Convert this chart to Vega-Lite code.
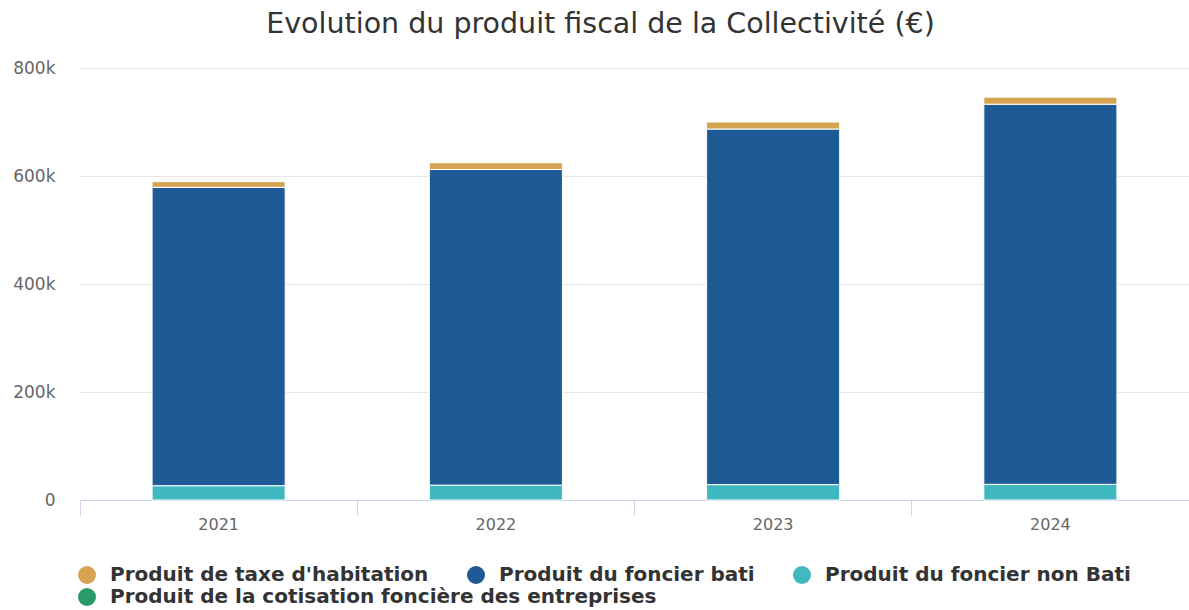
{
  "$schema": "https://vega.github.io/schema/vega-lite/v6.json",
  "autosize": "none",
  "width": 1109,
  "height": 432,
  "padding": {"left": 80, "top": 68, "right": 0, "bottom": 110},
  "background": "#ffffff",
  "title": {
    "text": "Evolution du produit fiscal de la Collectivité (€)",
    "font": "DejaVu Sans",
    "fontSize": 28.5,
    "fontWeight": "normal",
    "color": "#333333",
    "anchor": "middle",
    "dx": -34,
    "offset": 21
  },
  "data": {
    "values": [
      {"annee": "2021", "serie": "Produit du foncier non Bati", "valeur": 26500},
      {"annee": "2021", "serie": "Produit du foncier bati", "valeur": 552500},
      {"annee": "2021", "serie": "Produit de taxe d'habitation", "valeur": 10500},
      {"annee": "2021", "serie": "Produit de la cotisation foncière des entreprises", "valeur": 0},
      {"annee": "2022", "serie": "Produit du foncier non Bati", "valeur": 27500},
      {"annee": "2022", "serie": "Produit du foncier bati", "valeur": 584500},
      {"annee": "2022", "serie": "Produit de taxe d'habitation", "valeur": 12500},
      {"annee": "2022", "serie": "Produit de la cotisation foncière des entreprises", "valeur": 0},
      {"annee": "2023", "serie": "Produit du foncier non Bati", "valeur": 28500},
      {"annee": "2023", "serie": "Produit du foncier bati", "valeur": 658500},
      {"annee": "2023", "serie": "Produit de taxe d'habitation", "valeur": 13000},
      {"annee": "2023", "serie": "Produit de la cotisation foncière des entreprises", "valeur": 0},
      {"annee": "2024", "serie": "Produit du foncier non Bati", "valeur": 29000},
      {"annee": "2024", "serie": "Produit du foncier bati", "valeur": 704000},
      {"annee": "2024", "serie": "Produit de taxe d'habitation", "valeur": 13000},
      {"annee": "2024", "serie": "Produit de la cotisation foncière des entreprises", "valeur": 0}
    ]
  },
  "encoding": {
    "x": {
      "field": "annee",
      "type": "nominal",
      "title": null,
      "scale": {"paddingInner": 0, "paddingOuter": 0},
      "axis": {
        "labelAngle": 0,
        "bandPosition": 0,
        "labelBandPosition": 0.5,
        "domainColor": "#ccd6eb",
        "domainWidth": 1,
        "tickColor": "#ccd6eb",
        "tickSize": 15,
        "tickWidth": 1,
        "labelPadding": 1,
        "labelFont": "DejaVu Sans",
        "labelFontSize": 16,
        "labelColor": "#666666",
        "grid": false
      }
    },
    "y": {
      "field": "valeur",
      "type": "quantitative",
      "title": null,
      "scale": {"domain": [0, 800000]},
      "axis": {
        "values": [0, 200000, 400000, 600000, 800000],
        "labelExpr": "datum.value == 0 ? '0' : format(datum.value / 1000, 'd') + 'k'",
        "domain": false,
        "ticks": false,
        "labelPadding": 25,
        "labelFont": "DejaVu Sans",
        "labelFontSize": 17,
        "labelColor": "#666666",
        "gridColor": "#e6e6e6",
        "gridWidth": 1
      }
    }
  },
  "layer": [
    {
      "transform": [{"filter": "datum.serie != 'Produit de la cotisation foncière des entreprises'"}],
      "mark": {"type": "bar", "width": {"band": 0.48}, "stroke": "#ffffff", "strokeWidth": 1},
      "encoding": {
        "y": {"field": "valeur", "type": "quantitative", "stack": "zero"},
        "color": {
          "field": "serie",
          "type": "nominal",
          "title": null,
          "scale": {
            "domain": ["Produit de taxe d'habitation", "Produit du foncier bati", "Produit du foncier non Bati"],
            "range": ["#d6a450", "#1e5b96", "#40b8c0"]
          },
          "legend": {
            "orient": "none",
            "legendX": -3,
            "legendY": 497,
            "direction": "horizontal",
            "padding": 0,
            "columnPadding": 37,
            "symbolType": "circle",
            "symbolSize": 324,
            "symbolStrokeWidth": 0,
            "symbolOpacity": 1,
            "labelOffset": 13,
            "labelFont": "DejaVu Sans",
            "labelFontSize": 20,
            "labelFontWeight": "bold",
            "labelColor": "#333333",
            "labelLimit": 0
          }
        },
        "order": {"field": "serie", "sort": "descending"}
      }
    },
    {
      "transform": [{"filter": "datum.serie == 'Produit de la cotisation foncière des entreprises'"}],
      "mark": {"type": "bar", "width": {"band": 0.48}, "strokeWidth": 0},
      "encoding": {
        "y": {"field": "valeur", "type": "quantitative", "stack": null},
        "fill": {
          "field": "serie",
          "type": "nominal",
          "title": null,
          "scale": {
            "domain": ["Produit de la cotisation foncière des entreprises"],
            "range": ["#2a9a68"]
          },
          "legend": {
            "orient": "none",
            "legendX": -3,
            "legendY": 519,
            "direction": "horizontal",
            "padding": 0,
            "symbolType": "circle",
            "symbolSize": 324,
            "symbolStrokeWidth": 0,
            "symbolOpacity": 1,
            "labelOffset": 13,
            "labelFont": "DejaVu Sans",
            "labelFontSize": 20,
            "labelFontWeight": "bold",
            "labelColor": "#333333",
            "labelLimit": 0
          }
        }
      }
    }
  ],
  "config": {
    "view": {"stroke": null},
    "font": "DejaVu Sans"
  }
}
